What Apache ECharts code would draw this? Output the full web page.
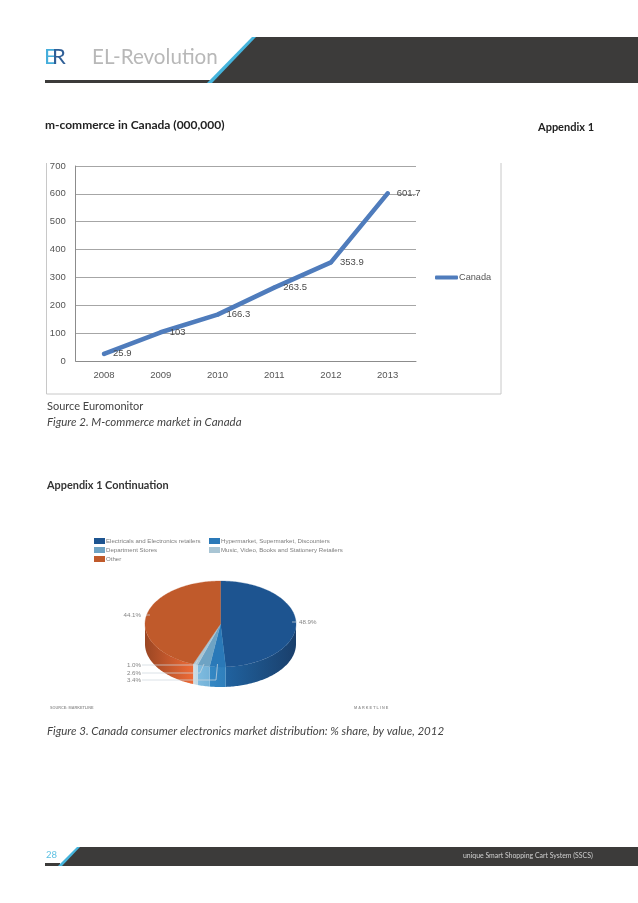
<!DOCTYPE html>
<html><head><meta charset="utf-8">
<style>html,body{margin:0;padding:0;background:#fff}#c{width:638px;height:903px;filter:blur(0.35px)}</style>
<script src="https://cdn.jsdelivr.net/npm/echarts@6/dist/echarts.min.js"></script>
</head><body><div id="c"></div>
<script>
var years = ['2008','2009','2010','2011','2012','2013'];
var canada = [25.9,103,166.3,263.5,353.9,601.7];
var yTicks = [0,100,200,300,400,500,600,700];
var sliceNames = ['Electricals and Electronics retailers','Hypermarket, Supermarket, Discounters','Department Stores','Music, Video, Books and Stationery Retailers','Other'];
var sliceValues = [48.9,3.4,2.6,1.0,44.1];

var FONT='Lato, "Open Sans", sans-serif', CH='"Liberation Sans", Arial, sans-serif';
var sliceStyle = [
 {top:'#1d5490',wall:['#20629f','#1a3f6b']},
 {top:'#2a79b8',wall:['#3488c4','#2f7fbc']},
 {top:'#6ea3c4',wall:['#7fbce0','#74b2d8']},
 {top:'#a9c5d4',wall:['#cfe0e8','#c0d6e0']},
 {top:'#c05a2b',wall:['#9a4623','#ee6a36']}
];
var P={cx:220.5,cy:624,rx:75.5,ry:43,d:20};
var labelLayout=[
 {x:299,y:622,align:'left',line:[[292,622],[297,622]]},
 {x:141,y:680,align:'right',line:[[142,680],[216,680],[217.5,664]]},
 {x:141,y:673,align:'right',line:[[142,673],[200,673],[204,664]]},
 {x:141,y:665,align:'right',line:[[142,665],[195,665],[198,660]]},
 {x:141,y:615,align:'right',line:[[146,615],[150,615]]}
];
var total=sliceValues.reduce(function(a,b){return a+b},0);
var starts=[],acc=0;sliceValues.forEach(function(v){starts.push(acc);acc+=v});
function pt(t,dy){return [P.cx+P.rx*Math.sin(t),P.cy-P.ry*Math.cos(t)+(dy||0)]}
function arc(a,b,dy){var n=Math.max(2,Math.ceil((b-a)/0.02)),o=[];for(var i=0;i<=n;i++)o.push(pt(a+(b-a)*i/n,dy));return o}
function pieSeries(i){
 return {type:'custom',name:sliceNames[i],coordinateSystem:'none',silent:true,z:5+(i==0?0:1),
  itemStyle:{color:sliceStyle[i].top},
  data:[[sliceValues[i],starts[i]]],
  renderItem:function(p,api){
   var v=api.value(0),s=api.value(1);
   var a=s/total*2*Math.PI,b=(s+v)/total*2*Math.PI;
   var ch=[];
   var wa=Math.max(a,Math.PI/2),wb=Math.min(b,Math.PI*1.5);
   if(wb>wa){
    var t=arc(wa,wb,0),bo=arc(wa,wb,P.d).reverse();
    ch.push({type:'polygon',shape:{points:t.concat(bo)},style:{fill:new echarts.graphic.LinearGradient(0,0,1,0,[{offset:0,color:sliceStyle[i].wall[0]},{offset:1,color:sliceStyle[i].wall[1]}])},z2:1});
   }
   ch.push({type:'polygon',shape:{points:[[P.cx,P.cy]].concat(arc(a,b,0))},style:{fill:sliceStyle[i].top,stroke:sliceStyle[i].top,lineWidth:0.3},z2:2});
   var L=labelLayout[i];
   ch.push({type:'polyline',shape:{points:L.line},style:{fill:null,stroke:'rgba(205,215,222,0.9)',lineWidth:0.8},z2:4});
   ch.push({type:'text',style:{text:v.toFixed(1)+'%',x:L.x,y:L.y,align:L.align,verticalAlign:'middle',font:'6.2px '+CH,fill:'#858585'},z2:5});
   return {type:'group',children:ch};
  }};
}
function txt(t,x,y,font,fill,extra){return Object.assign({type:'text',silent:true,x:x,y:y,z:20,style:{text:t,font:font,fill:fill,verticalAlign:'middle'}},extra||{})}
function poly(pts,fill){return {type:'polygon',silent:true,z:20,shape:{points:pts},style:{fill:fill}}}
var DK='#3c3b3a',BL='#45b4dc';
var gfx=[
 poly([[255,37],[638,37],[638,83],[210,83]],DK),
 poly([[252,37],[256,37],[212,83],[207,83]],BL),
 {type:'rect',silent:true,z:19,shape:{x:45,y:80,width:167,height:3},style:{fill:DK}},
 txt('E',44,57,'22px '+FONT,'#45aedb'),
 txt('R',52,57,'22px '+FONT,'#2f5f97'),
 txt('EL-Revolution',92,57,'20.6px '+FONT,'#b8b8b8'),
 txt('m-commerce in Canada (000,000)',45,125.5,'bold 12px '+FONT,'#222'),
 txt('Appendix 1',538,127,'bold 11px '+FONT,'#222'),
 txt('Source Euromonitor',47,406,'11px '+FONT,'#444'),
 txt('Figure 2. M-commerce market in Canada',47,422,'italic 11.5px '+FONT,'#444'),
 txt('Appendix 1 Continuation',47,485,'bold 10.9px '+FONT,'#333'),
 txt('Figure 3. Canada consumer electronics market distribution: % share, by value, 2012',47,731,'italic 11.5px '+FONT,'#444'),
 txt('SOURCE: MARKETLINE',50,708,'bold 3.8px '+CH,'#999'),
 txt('M A R K E T L I N E',354,708,'bold 3.8px '+CH,'#999'),
 {type:'rect',silent:true,z:19,shape:{x:40,y:150,width:470,height:12},style:{fill:'#fff'}},
 {type:'polyline',silent:true,z:3,shape:{points:[[46.5,163],[46.5,394],[501,394],[501,163]]},style:{fill:null,stroke:'#c8c8c8',lineWidth:1}},
 poly([[79,847],[638,847],[638,866],[60,866]],DK),
 poly([[77,847],[80,847],[62,866],[58,866]],BL),
 {type:'rect',silent:true,z:19,shape:{x:45,y:863,width:15,height:3},style:{fill:DK}},
 txt('28',46,855,'9.5px '+FONT,'#5cc0e2'),
 txt('unique Smart Shopping Cart System (SSCS)',463,855.5,'6.9px '+FONT,'#d0d0d0')
];
var legendBase={icon:'rect',itemWidth:11,itemHeight:6,itemGap:1,orient:'vertical',selectedMode:false,padding:0,
 textStyle:{fontSize:6.1,fontFamily:CH,color:'#7d7d7d',padding:[0,0,0,-4],lineHeight:8}};
var chart=echarts.init(document.getElementById('c'),null,{renderer:'canvas'});
chart.setOption({
 animation:false,backgroundColor:'#fff',
 graphic:gfx,
 grid:{left:75.7,right:222,top:166,bottom:542},
 xAxis:{type:'category',data:years,boundaryGap:true,axisTick:{show:false},axisLine:{lineStyle:{color:'#8c8c8c',width:1}},
  axisLabel:{margin:9,fontSize:9.5,fontFamily:CH,color:'#555'}},
 yAxis:{type:'value',min:yTicks[0],max:yTicks[yTicks.length-1],interval:yTicks[1]-yTicks[0],
  axisLine:{show:true,lineStyle:{color:'#8c8c8c',width:1}},axisTick:{show:false},
  splitLine:{lineStyle:{color:'#a6a6a6',width:1}},
  axisLabel:{margin:10,fontSize:9.5,fontFamily:CH,color:'#555'}},
 legend:[
  {data:['Canada'],left:435,top:273,icon:'roundRect',itemWidth:23,itemHeight:4,selectedMode:false,padding:0,
   textStyle:{fontSize:9.2,fontFamily:CH,color:'#555',padding:[0,0,0,-4]}},
  Object.assign({},legendBase,{data:[sliceNames[0],sliceNames[2],sliceNames[4]],left:94,top:537}),
  Object.assign({},legendBase,{data:[sliceNames[1],sliceNames[3]],left:209,top:537})
 ],
 series:[{type:'line',name:'Canada',data:canada,smooth:false,symbol:'circle',symbolSize:4,
   itemStyle:{color:'#4f7cbc'},lineStyle:{color:'#4f7cbc',width:4.6,cap:'round',join:'round'},z:3,
   label:{show:true,position:'right',distance:7,fontSize:9.5,fontFamily:CH,color:'#4a4a4a'}}]
  .concat(sliceValues.map(function(_,i){return pieSeries(i)}))
});
</script></body></html>
